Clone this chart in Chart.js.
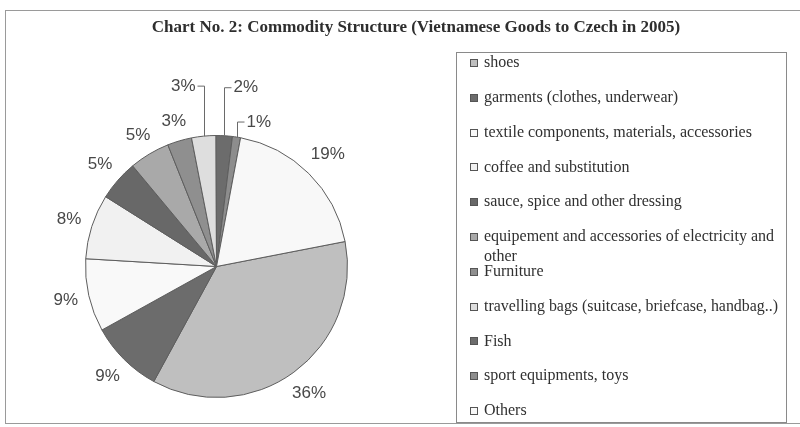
<!DOCTYPE html>
<html>
<head>
<meta charset="utf-8">
<script src="https://cdn.jsdelivr.net/npm/chart.js@4/dist/chart.umd.min.js"></script>
<style>
  html, body { margin: 0; padding: 0; background: #fff; }
  canvas { display: block; }
</style>
</head>
<body>
<canvas id="c" width="800" height="427"></canvas>
<script>
// Commodity structure of Vietnamese goods exported to the Czech Republic, 2005
const chartTitle = 'Chart No. 2: Commodity Structure (Vietnamese Goods to Czech in 2005)';

// multi-line labels are given as arrays of lines
const categories = [
  'shoes',
  'garments (clothes, underwear)',
  'textile components, materials, accessories',
  'coffee and substitution',
  'sauce, spice and other dressing',
  ['equipement and accessories of electricity and', 'other'],
  'Furniture',
  'travelling bags (suitcase, briefcase, handbag..)',
  'Fish',
  'sport equipments, toys',
  'Others'
];

const shares = [36, 9, 9, 8, 5, 5, 3, 3, 2, 1, 19];

const sliceColors = [
  '#bfbfbf', '#6c6c6c', '#f9f9f9', '#f1f1f1', '#686868',
  '#a9a9a9', '#8f8f8f', '#dedede', '#6c6c6c', '#8d8d8d', '#f8f8f8'
];

// slices whose labels sit on a leader line: rise above the rim, side of the label
const callouts = { 7: { rise: 50, side: -1 }, 8: { rise: 48, side: 1 }, 9: { rise: 15, side: 1 } };

const frameAndTitle = {
  id: 'frameAndTitle',
  beforeDraw(chart) {
    const ctx = chart.ctx;
    ctx.save();
    ctx.fillStyle = '#ffffff';
    ctx.fillRect(0, 0, chart.width, chart.height);
    ctx.strokeStyle = '#9a9a9a';
    ctx.lineWidth = 1;
    ctx.strokeRect(5.5, 10.5, chart.width + 10, 413);
    ctx.fillStyle = '#2e2e2e';
    ctx.font = 'bold 17px "Liberation Serif", "Times New Roman", serif';
    ctx.textAlign = 'center';
    ctx.textBaseline = 'middle';
    ctx.fillText(chartTitle, 416, 28, 540);
    ctx.restore();
  }
};

const sliceLabels = {
  id: 'sliceLabels',
  afterDatasetsDraw(chart) {
    const ctx = chart.ctx;
    const meta = chart.getDatasetMeta(0);
    ctx.save();
    ctx.font = '17px "Liberation Sans", Arial, sans-serif';
    ctx.fillStyle = '#484848';
    ctx.strokeStyle = '#6a6a6a';
    ctx.lineWidth = 1;
    ctx.textBaseline = 'middle';
    meta.data.forEach((arc, i) => {
      const { x, y, startAngle, endAngle, outerRadius } = arc.getProps(['x', 'y', 'startAngle', 'endAngle', 'outerRadius'], true);
      const mid = (startAngle + endAngle) / 2;
      const cx = Math.cos(mid), sy = Math.sin(mid);
      const text = shares[i] + '%';
      const c = callouts[i];
      if (c) {
        const ax = Math.round(x + outerRadius * cx) + 0.5;
        const ay = y + outerRadius * sy;
        const top = ay - c.rise;
        const hx = ax + c.side * 7;
        ctx.beginPath();
        ctx.moveTo(ax, ay);
        ctx.lineTo(ax, top);
        ctx.lineTo(hx, top);
        ctx.stroke();
        ctx.textAlign = c.side < 0 ? 'right' : 'left';
        ctx.fillText(text, hx + c.side * 2, top);
      } else {
        const w = ctx.measureText(text).width / 2;
        const h = 7;
        const d = outerRadius + 10 + Math.abs(cx) * w + Math.abs(sy) * h;
        ctx.textAlign = 'center';
        ctx.fillText(text, x + d * cx, y + d * sy);
      }
    });
    ctx.restore();
  }
};

const boxLegend = {
  id: 'boxLegend',
  afterDraw(chart) {
    const ctx = chart.ctx;
    const left = 456, top = 52, right = 786, bottom = 422;
    const textX = 484;
    ctx.save();
    ctx.strokeStyle = '#8a8a8a';
    ctx.lineWidth = 1;
    ctx.strokeRect(left + 0.5, top + 0.5, right - left, bottom - top);
    ctx.font = '16px "Liberation Serif", "Times New Roman", serif';
    ctx.textBaseline = 'middle';
    ctx.textAlign = 'left';
    const labels = chart.data.labels;
    const pitch = (bottom - top - 22) / (labels.length - 1);
    labels.forEach((label, i) => {
      const yc = top + 11 + i * pitch;
      const my = Math.round(yc) - 3.5;
      ctx.fillStyle = sliceColors[i];
      ctx.fillRect(470.5, my, 7, 7);
      ctx.strokeStyle = '#555555';
      ctx.strokeRect(470.5, my, 7, 7);
      ctx.fillStyle = '#303030';
      const lines = Array.isArray(label) ? label : [label];
      lines.forEach((ln, k) => ctx.fillText(ln, textX, yc + k * 20, right - textX - 8));
    });
    ctx.restore();
  }
};

new Chart(document.getElementById('c'), {
  type: 'pie',
  data: {
    labels: categories,
    datasets: [{
      data: shares,
      backgroundColor: sliceColors,
      borderColor: '#5e5e5e',
      borderWidth: 1
    }]
  },
  options: {
    responsive: false,
    animation: false,
    rotation: 79,
    layout: { padding: { left: 85, right: 452, top: 135, bottom: 29 } },
    plugins: {
      legend: { display: false },
      title: { display: false },
      tooltip: { enabled: false }
    }
  },
  plugins: [frameAndTitle, sliceLabels, boxLegend]
});
</script>
</body>
</html>
